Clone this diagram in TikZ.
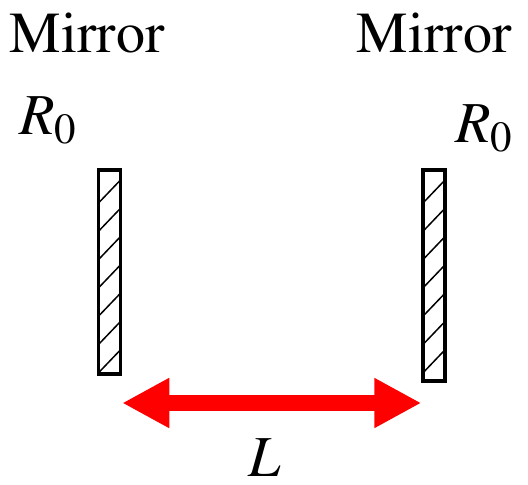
\documentclass[tikz,border=0pt]{standalone}
\usepackage[T1]{fontenc}
\usepackage{mathptmx}
\usetikzlibrary{arrows.meta}
\definecolor{arrowred}{RGB}{255,0,0}
\tikzset{
  mirror/.style={draw,line width=1.75pt,minimum width=11pt,inner sep=0pt,
    path picture={\foreach \k in {0,...,7}
      \draw[line width=0.75pt] ([yshift=-16.5pt-14.15*\k pt]path picture bounding box.north west) -- ++(11pt,11.5pt);}},
  lbl/.style={font=\fontsize{29}{34}\selectfont,inner sep=0pt,anchor=base},
  dbl/.style={arrowred,line width=8pt,{Triangle[length=23.5pt,width=23.5pt]}-{Triangle[length=23.5pt,width=23.5pt]}}
}
\newcommand{\Rsub}{$R_0$}
\begin{document}
\begin{tikzpicture}[x=0.5pt,y=-0.5pt]
\useasboundingbox (0,0) rectangle (528,485);
% Mirrors
\node[mirror,minimum height=102pt] (lm) at (109.5,272) {};
\node[mirror,minimum height=105.5pt] (rm) at (434,275.5) {};
% Labels
\node[lbl] (lmt) at (87,53) {Mirror};
\node[lbl] (rmt) at (434,53) {Mirror};
\node[lbl,anchor=base west] (lr) at (19,135) {\Rsub};
\node[lbl,anchor=base west] (rr) at (455,143) {\Rsub};
% Length arrow
\coordinate (lvl) at (0,403);
\draw[dbl] (lm.east |- lvl) -- (rm.west |- lvl);
\node[lbl] (len) at (265,476) {$L$};
\end{tikzpicture}
\end{document}
